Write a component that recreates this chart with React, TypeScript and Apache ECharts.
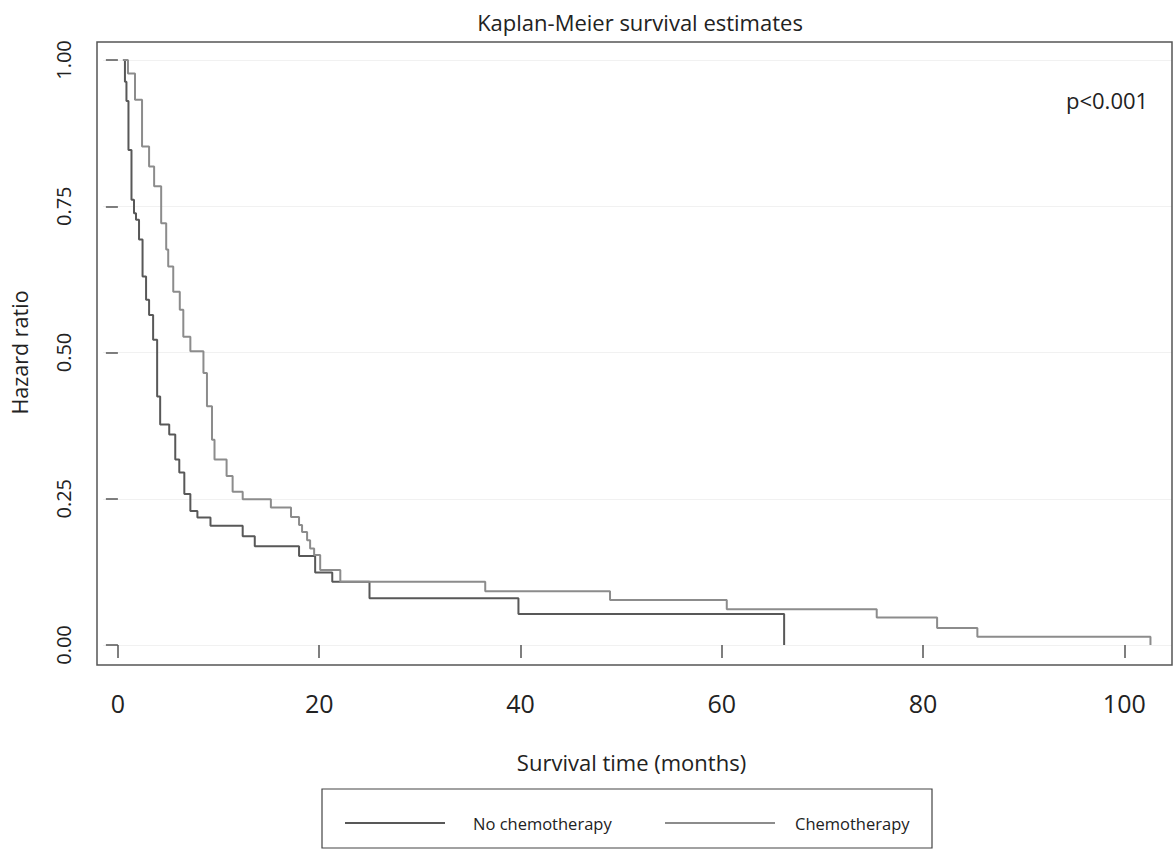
import React, { useEffect, useRef } from "react";
import * as echarts from "echarts";

const FONT = "Open Sans";

const xTicks = [0, 20, 40, 60, 80, 100];
const yTicks = [0, 0.25, 0.5, 0.75, 1];

const seriesNames = ["No chemotherapy", "Chemotherapy"];

const noChemoTime = [0.5, 0.7, 0.85, 1.05, 1.35, 1.6, 1.8, 2.1, 2.45, 2.8, 3.1, 3.5, 3.9, 4.2, 5.1, 5.7, 6.1, 6.6, 7.2, 7.9, 9.2, 12.4, 13.6, 18.0, 19.6, 21.3, 25.0, 39.8, 66.2];
const noChemoSurv = [1.0, 0.963, 0.93, 0.846, 0.761, 0.738, 0.727, 0.693, 0.63, 0.59, 0.564, 0.522, 0.425, 0.377, 0.36, 0.317, 0.295, 0.258, 0.229, 0.218, 0.204, 0.186, 0.169, 0.152, 0.124, 0.108, 0.08, 0.053, 0];

const chemoTime = [0.5, 1.0, 1.7, 2.4, 3.1, 3.6, 4.3, 4.8, 5.0, 5.5, 6.15, 6.5, 7.2, 8.5, 8.85, 9.35, 9.6, 10.8, 11.4, 12.4, 15.2, 17.2, 18.0, 18.3, 18.8, 19.1, 19.5, 20.1, 22.1, 36.5, 48.9, 60.5, 75.4, 81.4, 85.4, 102.6];
const chemoSurv = [1.0, 0.977, 0.932, 0.852, 0.818, 0.784, 0.721, 0.676, 0.647, 0.604, 0.573, 0.527, 0.502, 0.465, 0.408, 0.351, 0.317, 0.289, 0.262, 0.249, 0.235, 0.219, 0.205, 0.193, 0.179, 0.165, 0.154, 0.128, 0.108, 0.092, 0.077, 0.061, 0.047, 0.029, 0.014, 0];

const colors = ["#585858", "#8c8c8c"];

const zip = (a: number[], b: number[]) => a.map((v, i) => [v, b[i]]);

export default function App() {
  const ref = useRef<HTMLDivElement>(null);
  useEffect(() => {
    if (!ref.current) return;
    const chart = echarts.init(ref.current, null, { renderer: "svg" });
    const option: any = {
      animation: false,
      backgroundColor: "#ffffff",
      textStyle: { fontFamily: FONT },
      title: {
        text: "Kaplan-Meier survival estimates",
        left: 635,
        top: 6,
        textAlign: "center",
        textStyle: { fontFamily: FONT, fontSize: 22, fontWeight: "normal", color: "#222" },
      },
      grid: { left: 97, right: 4, top: 60, bottom: 208, containLabel: false },
      xAxis: {
        type: "value",
        min: -1.48,
        max: 104.74,
        offset: 20,
        name: "Survival time (months)",
        nameLocation: "middle",
        nameGap: 86,
        nameTextStyle: { fontFamily: FONT, fontSize: 22, color: "#222", padding: [0, 12, 0, 0] },
        axisLine: { show: false },
        axisTick: { show: true, length: 13, lineStyle: { color: "#555", width: 1.5 }, customValues: xTicks },
        axisLabel: { fontFamily: FONT, fontSize: 25, color: "#222", margin: 25, customValues: xTicks },
        splitLine: { show: false },
      },
      yAxis: {
        type: "value",
        min: 0,
        max: 1,
        interval: 0.25,
        name: "Hazard ratio",
        nameLocation: "middle",
        nameRotate: 90,
        nameGap: 73,
        nameTextStyle: { fontFamily: FONT, fontSize: 21.5, color: "#222" },
        axisLine: { show: false },
        axisTick: { show: true, length: 12, lineStyle: { color: "#555", width: 1.5 } },
        axisLabel: {
          fontFamily: FONT,
          fontSize: 20,
          color: "#222",
          rotate: 90,
          margin: 30,
          formatter: (v: number) => v.toFixed(2),
        },
        splitLine: { show: true, lineStyle: { color: "#f1f1f1", width: 1 } },
      },
      series: [
        {
          name: seriesNames[0],
          type: "line",
          step: "end",
          symbol: "none",
          data: zip(noChemoTime, noChemoSurv),
          lineStyle: { color: colors[0], width: 2 },
          itemStyle: { color: colors[0] },
        },
        {
          name: seriesNames[1],
          type: "line",
          step: "end",
          symbol: "none",
          data: zip(chemoTime, chemoSurv),
          lineStyle: { color: colors[1], width: 2 },
          itemStyle: { color: colors[1] },
        },
      ],
      graphic: [
        {
          type: "rect",
          shape: { x: 97, y: 42, width: 1075, height: 623 },
          style: { fill: "none", stroke: "#555", lineWidth: 1.5 },
          z: 10,
        },
        {
          type: "text",
          x: 1066,
          y: 100,
          style: { text: "p<0.001", fontFamily: FONT, fontSize: 22, fill: "#222", textVerticalAlign: "middle" },
        },
        {
          type: "rect",
          shape: { x: 322, y: 789, width: 610, height: 59 },
          style: { fill: "none", stroke: "#444", lineWidth: 1.2 },
        },
        {
          type: "line",
          shape: { x1: 345, y1: 823, x2: 445, y2: 823 },
          style: { stroke: colors[0], lineWidth: 2 },
        },
        {
          type: "text",
          x: 473,
          y: 823,
          style: { text: seriesNames[0], fontFamily: FONT, fontSize: 16.5, fill: "#222", textVerticalAlign: "middle" },
        },
        {
          type: "line",
          shape: { x1: 665, y1: 823, x2: 775, y2: 823 },
          style: { stroke: colors[1], lineWidth: 2 },
        },
        {
          type: "text",
          x: 795,
          y: 823,
          style: { text: seriesNames[1], fontFamily: FONT, fontSize: 16.5, fill: "#222", textVerticalAlign: "middle" },
        },
      ],
    };
    chart.setOption(option);
    return () => chart.dispose();
  }, []);
  return (
    <div
      ref={ref}
      style={{ position: "absolute", left: 0, top: 0, width: 1176, height: 853 }}
    />
  );
}
